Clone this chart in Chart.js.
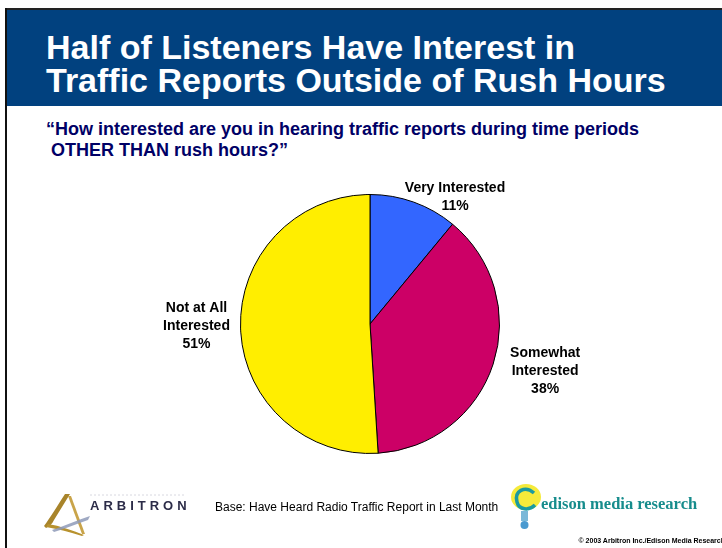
<!DOCTYPE html>
<html>
<head>
<meta charset="utf-8">
<script src="https://cdn.jsdelivr.net/npm/chart.js@4"></script>
<style>
  html, body { margin: 0; padding: 0; background: #fff; }
  #slide { position: relative; width: 722px; height: 548px; overflow: hidden; background: #fff; }
  #frameTop { position: absolute; left: 5px; top: 8px; width: 717px; height: 2px; background: #222; }
  #frameLeft { position: absolute; left: 5px; top: 8px; width: 2px; height: 540px; background: #111; }
  #header { position: absolute; left: 7px; top: 10px; width: 715px; height: 96px; background: #01417f; }
  #title { position: absolute; left: 46px; top: 31px; color: #fff; font: bold 34px "Liberation Sans", Arial, sans-serif; line-height: 33px; white-space: nowrap; }
  #question { position: absolute; left: 46px; top: 119px; color: #000066; font: bold 18px "Liberation Sans", Arial, sans-serif; line-height: 21px; white-space: nowrap; }
  #pie { position: absolute; left: 0; top: 0; }
  #base { position: absolute; left: 215px; top: 500px; font: 12px "Liberation Sans", Arial, sans-serif; color: #000; white-space: nowrap; }
  #edisonText { position: absolute; left: 541px; top: 494px; font: bold 16.5px "Liberation Serif", "Times New Roman", serif; color: #168c8c; white-space: nowrap; }
  #copy { position: absolute; right: -3px; top: 537px; font: bold 7px "Liberation Sans", Arial, sans-serif; color: #000; white-space: nowrap; }
  #arbText { position: absolute; left: 90px; top: 498px; font: bold 13px "Liberation Sans", Arial, sans-serif; letter-spacing: 4px; color: #2c2c48; }
</style>
</head>
<body>
<div id="slide">
  <div id="header"></div>
  <div id="frameTop"></div>
  <div id="frameLeft"></div>
  <div id="title">Half of Listeners Have Interest in<br>Traffic Reports Outside of Rush Hours</div>
  <div id="question">“How interested are you in hearing traffic reports during time periods<br>&nbsp;OTHER THAN rush hours?”</div>
  <canvas id="pie" width="722" height="548"></canvas>

  <!-- Arbitron mark -->
  <svg style="position:absolute;left:40px;top:488px" width="150" height="50" viewBox="0 0 150 50">
    <line x1="50" y1="7" x2="145" y2="7" stroke="#d8d8e0" stroke-width="1" stroke-dasharray="2 2"/>
    <path d="M25 6 L30 6 L14 32 C12 36 10 38 6 40 L4 38 C10 30 16 20 25 6 Z" fill="#a8842a"/>
    <path d="M8 36 C20 38 32 42 44 47 L42 48 C30 44 18 41 6 39 Z" fill="#b8922e"/>
    <path d="M28 8 L31 8 L45 46 L42 46 Z" fill="#c9a44a"/>
    <path d="M12 42 C24 38 38 32 50 28 L48 32 C36 36 24 41 14 44 Z" fill="#8e9ab8" opacity="0.85"/>
  </svg>
  <div id="arbText">ARBITRON</div>
  <div id="base">Base: Have Heard Radio Traffic Report in Last Month</div>

  <!-- Edison bulb mark -->
  <svg style="position:absolute;left:505px;top:483px" width="40" height="50" viewBox="0 0 40 50">
    <ellipse cx="21" cy="14" rx="15" ry="13" fill="#f5ea3a"/>
    <path d="M29 10 C20 2 9 8 12 19 C14 27 24 28 30 22" fill="none" stroke="#1a9aa0" stroke-width="3.5"/>
    <rect x="16" y="28" width="7" height="10" fill="#7ab8d8"/>
    <circle cx="19.5" cy="42" r="4" fill="#4a9ad0"/>
  </svg>
  <div id="edisonText">edison media research</div>
  <div id="copy">© 2003 Arbitron Inc./Edison Media Research</div>
</div>

<script>
// slice data, clockwise from 12 o'clock
const categories = ['Very Interested', 'Somewhat Interested', 'Not at All Interested'];
const labelLines = [['Very Interested'], ['Somewhat', 'Interested'], ['Not at All', 'Interested']];
const shares = [11, 38, 51];
const sliceColors = ['#3366ff', '#cc0066', '#ffee00'];

// text outside the pie: angle nudge (deg) and distance as a multiple of the radius
const labelPlace = [
  { turn: 14, dist: 1.18 },
  { turn: -3, dist: 1.40 },
  { turn: 1, dist: 1.34 }
];

const outsideLabels = {
  id: 'outsideLabels',
  afterDraw(chart) {
    const ctx = chart.ctx;
    const meta = chart.getDatasetMeta(0);
    ctx.save();
    ctx.font = 'bold 14px "Liberation Sans", Arial, sans-serif';
    ctx.fillStyle = '#000';
    ctx.textAlign = 'center';
    ctx.textBaseline = 'middle';
    meta.data.forEach((arc, i) => {
      const p = arc.getProps(['x', 'y', 'startAngle', 'endAngle', 'outerRadius'], true);
      const mid = (p.startAngle + p.endAngle) / 2 + labelPlace[i].turn * Math.PI / 180;
      const r = p.outerRadius * labelPlace[i].dist;
      const cx = p.x + Math.cos(mid) * r;
      const cy = p.y + Math.sin(mid) * r;
      const lines = labelLines[i].concat([shares[i] + '%']);
      const lh = 18;
      lines.forEach((t, k) => {
        ctx.fillText(t, cx, cy + (k - (lines.length - 1) / 2) * lh);
      });
    });
    ctx.restore();
  }
};

new Chart(document.getElementById('pie'), {
  type: 'pie',
  data: {
    labels: categories,
    datasets: [{
      data: shares,
      backgroundColor: sliceColors,
      borderColor: '#000',
      borderWidth: 1
    }]
  },
  options: {
    responsive: false,
    animation: false,
    rotation: 0,
    layout: { padding: { left: 240, right: 222, top: 194, bottom: 94 } },
    plugins: {
      legend: { display: false },
      tooltip: { enabled: false }
    }
  },
  plugins: [outsideLabels]
});
</script>
</body>
</html>
